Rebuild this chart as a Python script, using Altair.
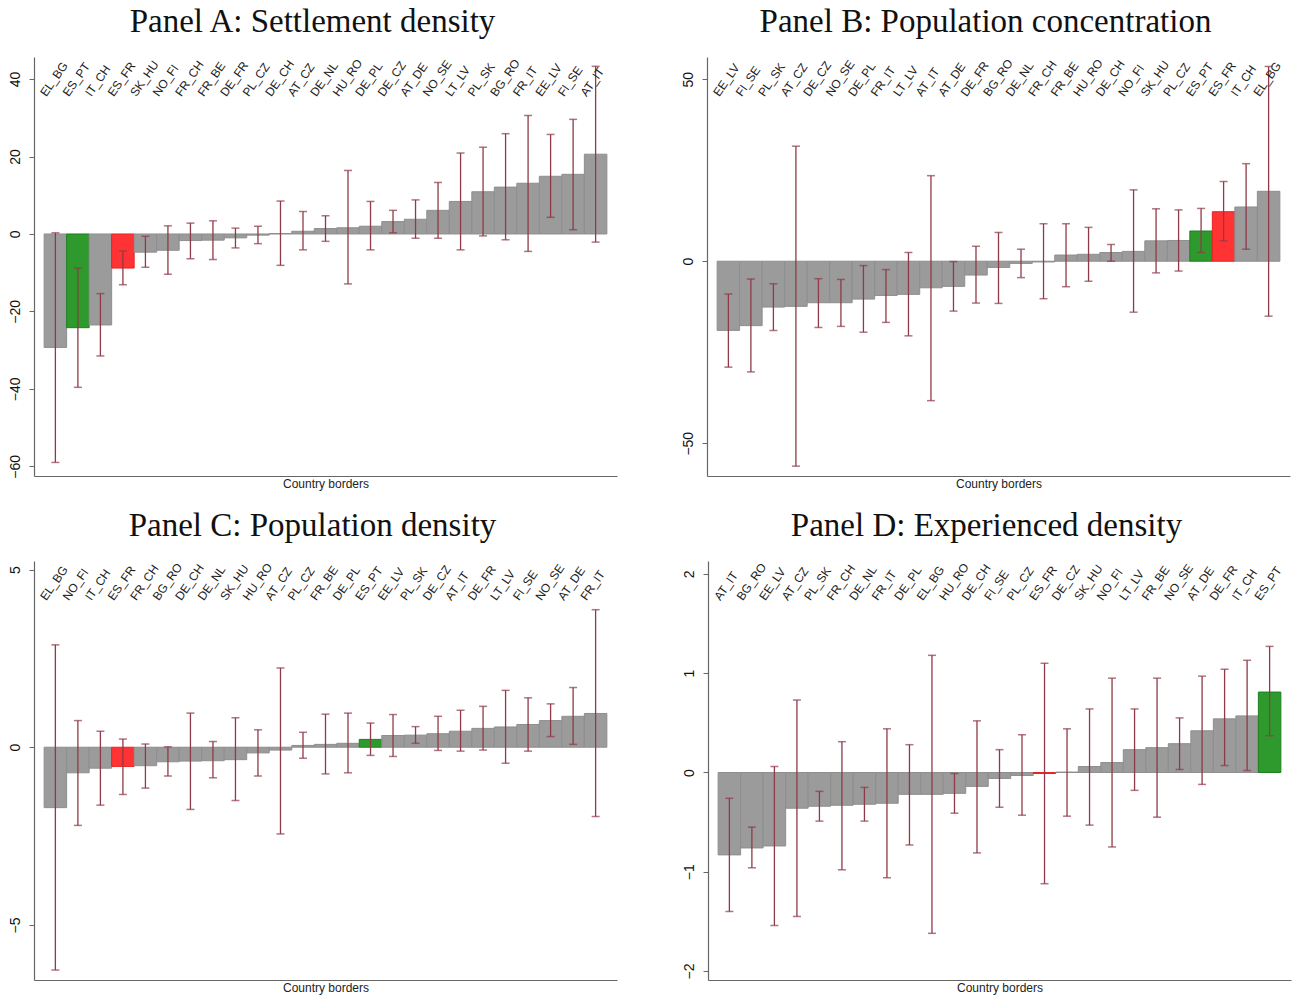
import altair as alt
import pandas as pd

# Panel A: Settlement density
a_borders = ["EL_BG", "ES_PT", "IT_CH", "ES_FR", "SK_HU", "NO_FI", "FR_CH", "FR_BE", "DE_FR",
             "PL_CZ", "DE_CH", "AT_CZ", "DE_NL", "HU_RO", "DE_PL", "DE_CZ", "AT_DE", "NO_SE",
             "LT_LV", "PL_SK", "BG_RO", "FR_IT", "EE_LV", "FI_SE", "AT_IT"]
a_coef = [-29.3, -24.2, -23.5, -8.8, -4.7, -4.2, -1.7, -1.6, -1.0, -0.3, 0.1, 0.7, 1.4, 1.6,
          2.0, 3.2, 3.8, 6.1, 8.4, 10.9, 12.1, 13.1, 14.9, 15.4, 20.6]
a_low = [-59.0, -39.6, -31.5, -13.1, -8.6, -10.4, -6.4, -6.6, -3.6, -2.5, -8.1, -4.1, -1.9,
         -12.9, -4.1, 0.3, -1.1, -1.1, -4.1, -0.5, -1.5, -4.5, 4.3, 1.1, -2.1]
a_high = [0.3, -8.8, -15.4, -4.4, -0.6, 2.1, 2.8, 3.4, 1.5, 2.0, 8.5, 5.8, 4.7, 16.4, 8.4,
          6.1, 8.8, 13.3, 20.9, 22.4, 25.9, 30.6, 25.7, 29.6, 43.3]

# Panel B: Population concentration
b_borders = ["EE_LV", "FI_SE", "PL_SK", "AT_CZ", "DE_CZ", "NO_SE", "DE_PL", "FR_IT", "LT_LV",
             "AT_IT", "AT_DE", "DE_FR", "BG_RO", "DE_NL", "FR_CH", "FR_BE", "HU_RO", "DE_CH",
             "NO_FI", "SK_HU", "PL_CZ", "ES_PT", "ES_FR", "IT_CH", "EL_BG"]
b_coef = [-19.0, -17.7, -12.6, -12.4, -11.4, -11.4, -10.4, -9.4, -9.1, -7.3, -6.9, -3.8, -1.7,
          -0.6, -0.2, 1.7, 1.9, 2.4, 2.7, 5.6, 5.7, 8.3, 13.6, 14.9, 19.2]
b_low = [-29.1, -30.4, -19.0, -56.3, -18.2, -17.9, -19.5, -16.8, -20.5, -38.3, -13.7, -11.5,
         -11.6, -4.5, -10.3, -7.0, -5.5, 0.0, -14.0, -3.2, -2.7, 2.4, 5.6, 3.3, -15.1]
b_high = [-9.0, -4.9, -6.2, 31.6, -4.8, -5.0, -1.2, -2.3, 2.4, 23.5, -0.1, 4.1, 7.9, 3.3, 10.3,
          10.3, 9.3, 4.6, 19.6, 14.4, 14.1, 14.5, 21.9, 26.8, 53.5]

# Panel C: Population density
c_borders = ["EL_BG", "NO_FI", "IT_CH", "ES_FR", "FR_CH", "BG_RO", "DE_CH", "DE_NL", "SK_HU",
             "HU_RO", "AT_CZ", "PL_CZ", "FR_BE", "DE_PL", "ES_PT", "EE_LV", "PL_SK", "DE_CZ",
             "AT_IT", "DE_FR", "LT_LV", "FI_SE", "NO_SE", "AT_DE", "FR_IT"]
c_coef = [-1.70, -0.72, -0.59, -0.54, -0.52, -0.41, -0.39, -0.38, -0.35, -0.16, -0.08, 0.05,
          0.08, 0.11, 0.22, 0.33, 0.34, 0.38, 0.45, 0.53, 0.57, 0.64, 0.75, 0.87, 0.95]
c_low = [-6.27, -2.20, -1.63, -1.33, -1.15, -0.81, -1.75, -0.86, -1.50, -0.81, -2.44, -0.31,
         -0.75, -0.72, -0.23, -0.26, 0.11, -0.09, -0.11, -0.08, -0.45, -0.11, 0.30, 0.08, -1.95]
c_high = [2.88, 0.75, 0.45, 0.23, 0.09, 0.01, 0.96, 0.16, 0.83, 0.49, 2.23, 0.42, 0.93, 0.96,
          0.68, 0.92, 0.58, 0.87, 1.04, 1.15, 1.60, 1.39, 1.22, 1.68, 3.87]

# Panel D: Experienced density
d_borders = ["AT_IT", "BG_RO", "EE_LV", "AT_CZ", "PL_SK", "FR_CH", "DE_NL", "FR_IT", "DE_PL",
             "EL_BG", "HU_RO", "DE_CH", "FI_SE", "PL_CZ", "ES_FR", "DE_CZ", "SK_HU", "NO_FI",
             "LT_LV", "FR_BE", "NO_SE", "AT_DE", "DE_FR", "IT_CH", "ES_PT"]
d_coef = [-0.83, -0.76, -0.74, -0.36, -0.34, -0.33, -0.32, -0.31, -0.22, -0.22, -0.21, -0.14,
          -0.06, -0.03, -0.01, 0.004, 0.06, 0.10, 0.23, 0.25, 0.29, 0.42, 0.54, 0.57, 0.81]
d_low = [-1.40, -0.96, -1.54, -1.45, -0.49, -0.98, -0.49, -1.06, -0.73, -1.62, -0.41, -0.81,
         -0.35, -0.43, -1.12, -0.44, -0.53, -0.75, -0.18, -0.45, 0.03, -0.12, 0.07, 0.02, 0.37]
d_high = [-0.26, -0.55, 0.06, 0.73, -0.19, 0.31, -0.15, 0.44, 0.28, 1.18, -0.01, 0.52, 0.23,
          0.38, 1.10, 0.44, 0.64, 0.95, 0.64, 0.95, 0.55, 0.97, 1.04, 1.13, 1.27]

FILL_DOMAIN = ["other", "ES_PT", "ES_FR"]
FILL_RANGE = ["#9b9b9b", "#2e9a2e", "#ff3333"]
EDGE_RANGE = ["#8e8e8e", "#1f7f1f", "#e82222"]
CI_COLOR = "#8e3a48"
AXIS_COLOR = "#666666"

PANEL_W = 583
PANEL_H = 419


def panel(title, borders, coef, low, high, ydomain, yticks):
    df = pd.DataFrame({"border": borders, "coef": coef, "low": low, "high": high})
    df["group"] = [b if b in ("ES_PT", "ES_FR") else "other" for b in borders]

    xscale = alt.Scale(paddingInner=0, paddingOuter=0.45)
    x = alt.X(
        "border:N", sort=borders, scale=xscale,
        axis=alt.Axis(title="Country borders", labels=False, ticks=False,
                      domainColor=AXIS_COLOR, domainWidth=1.2,
                      titleFont="Liberation Sans", titleFontSize=12,
                      titleFontWeight="normal", titleColor="#222222", titlePadding=2),
    )
    yscale = alt.Scale(domain=ydomain, nice=False, zero=False)
    y = alt.Y(
        "coef:Q", scale=yscale,
        axis=alt.Axis(title=None, values=yticks, grid=False, labelAngle=270,
                      labelAlign="center", labelBaseline="bottom",
                      tickSize=5, tickColor=AXIS_COLOR, domainColor=AXIS_COLOR,
                      domainWidth=1.2, labelPadding=7, labelFont="Liberation Sans",
                      labelFontSize=14, labelColor="#111111", format="d"),
    )

    base = alt.Chart(df)
    bars = base.mark_bar(strokeWidth=1).encode(
        x=x, y=y, y2=alt.datum(0),
        color=alt.Color("group:N", scale=alt.Scale(domain=FILL_DOMAIN, range=FILL_RANGE), legend=None),
        stroke=alt.Stroke("group:N", scale=alt.Scale(domain=FILL_DOMAIN, range=EDGE_RANGE), legend=None),
    )
    xc = alt.X("border:N", sort=borders, scale=xscale)
    ci = base.mark_rule(color=CI_COLOR, strokeWidth=1.3).encode(
        x=xc, y=alt.Y("low:Q", scale=yscale), y2="high:Q"
    )
    cap_lo = base.mark_tick(color=CI_COLOR, size=8, thickness=1.5).encode(
        x=xc, y=alt.Y("low:Q", scale=yscale)
    )
    cap_hi = base.mark_tick(color=CI_COLOR, size=8, thickness=1.5).encode(
        x=xc, y=alt.Y("high:Q", scale=yscale)
    )
    labels = base.mark_text(
        angle=305, align="left", baseline="bottom", font="Liberation Sans",
        fontSize=12, color="#222222"
    ).encode(
        x=alt.X("border:N", sort=borders, scale=xscale, bandPosition=0.2),
        y=alt.value(42),
        text="border:N",
    )
    return alt.layer(bars, ci, cap_lo, cap_hi, labels).properties(
        width=PANEL_W, height=PANEL_H,
        title=alt.TitleParams(title, font="Liberation Serif", fontSize=33,
                              fontWeight="normal", color="#111111",
                              anchor="middle", frame="bounds", offset=18),
    )


pa = panel("Panel A: Settlement density", a_borders, a_coef, a_low, a_high,
           [-62.5, 45.7], [-60, -40, -20, 0, 20, 40])
pb = panel("Panel B: Population concentration", b_borders, b_coef, b_low, b_high,
           [-59.0, 56.1], [-50, 0, 50])
pc = panel("Panel C: Population density", c_borders, c_coef, c_low, c_high,
           [-6.55, 5.24], [-5, 0, 5])
pd_ = panel("Panel D: Experienced density", d_borders, d_coef, d_low, d_high,
            [-2.09, 2.13], [-2, -1, 0, 1, 2])

chart = alt.vconcat(
    alt.hconcat(pa, pb, spacing=64),
    alt.hconcat(pc, pd_, spacing=64),
    spacing=21,
).configure_view(stroke=None).properties(
    padding={"left": 8, "top": 6, "right": 2, "bottom": 2},
    background="white",
)

chart.save("out.html", embed_options={"renderer": "svg", "actions": False})
